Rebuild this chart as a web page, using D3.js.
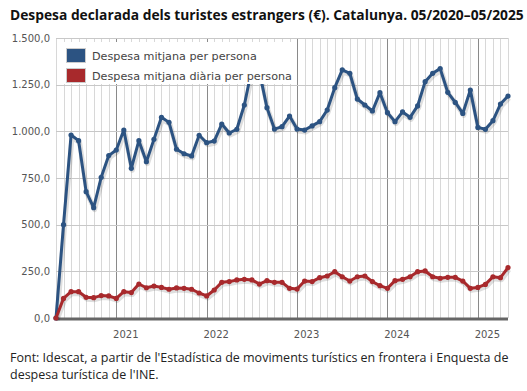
<!DOCTYPE html>
<html>
<head>
<meta charset="UTF-8">
<title>Despesa turistes estrangers</title>
<script src="https://cdn.jsdelivr.net/npm/d3@7"></script>
<style>
  body { margin: 0; background: #fff; }
  svg { display: block; }
</style>
</head>
<body>
<svg id="chart" width="527" height="391"></svg>
<script>
// months 05/2020 .. 05/2025
var months = d3.timeMonths(new Date(2020, 4, 1), new Date(2025, 5, 1));

// Despesa mitjana per persona (€)
var perPersona = [
  0, 500, 980, 950, 677, 591, 754, 870, 900, 1007, 802, 950,
  837, 957, 1075, 1048, 904, 880, 868, 979, 939, 948, 1039, 991,
  1011, 1141, 1335, 1320, 1127, 1012, 1025, 1082, 1012, 1007, 1029, 1052,
  1114, 1234, 1329, 1311, 1173, 1141, 1109, 1207, 1100, 1052, 1104, 1075,
  1136, 1266, 1311, 1336, 1209, 1155, 1096, 1221, 1021, 1011, 1057, 1146,
  1189
];

// Despesa mitjana diària per persona (€)
var diariaPersona = [
  0, 105, 141, 141, 111, 109, 120, 118, 105, 141, 136, 182,
  162, 171, 164, 154, 161, 159, 154, 134, 118, 150, 191, 195,
  204, 207, 204, 182, 200, 191, 191, 159, 155, 198, 195, 216,
  225, 248, 221, 198, 221, 225, 195, 173, 159, 200, 207, 221,
  248, 252, 221, 213, 218, 218, 198, 159, 164, 180, 221, 216,
  270
];

var yTicks = [0, 250, 500, 750, 1000, 1250, 1500];
var seriesNames = ["Despesa mitjana per persona", "Despesa mitjana diària per persona"];
var seriesColors = ["#2c5382", "#a8292c"];

var svg = d3.select("#chart");
var plotLeft = 56, plotRight = 508, plotTop = 38, plotBottom = 318;

var x = d3.scalePoint().domain(months.map(function(d) { return +d; })).range([plotLeft, plotRight]);
var y = d3.scaleLinear().domain([0, 1500]).range([plotBottom, plotTop]);

var fmt = d3.formatLocale({decimal: ",", thousands: ".", grouping: [3], currency: ["", "€"]}).format(",.1f");

// title
svg.append("text")
  .attr("x", 10).attr("y", 20)
  .attr("font-family", "Open Sans")
  .attr("font-weight", "bold")
  .attr("font-size", 13.8)
  .attr("fill", "#111")
  .text("Despesa declarada dels turistes estrangers (€). Catalunya. 05/2020–05/2025");

// vertical grid (one per month, darker at January)
svg.append("g").selectAll("line")
  .data(months)
  .join("line")
  .attr("x1", function(d) { return Math.round(x(+d)) + 0.5; })
  .attr("x2", function(d) { return Math.round(x(+d)) + 0.5; })
  .attr("y1", plotTop).attr("y2", plotBottom)
  .attr("stroke", function(d) { return d.getMonth() === 0 ? "#8a8a8a" : "#d8d8d8"; })
  .attr("stroke-width", 1);

// horizontal grid
svg.append("g").selectAll("line")
  .data(yTicks)
  .join("line")
  .attr("x1", plotLeft).attr("x2", plotRight)
  .attr("y1", function(d) { return Math.round(y(d)) + 0.5; })
  .attr("y2", function(d) { return Math.round(y(d)) + 0.5; })
  .attr("stroke", "#c8c8c8");

// y axis labels
var yAxis = svg.append("g")
  .attr("transform", "translate(" + (plotLeft - 4) + ",0)")
  .call(d3.axisLeft(y).tickValues(yTicks).tickFormat(fmt).tickSize(0).tickPadding(2));
yAxis.select(".domain").remove();
yAxis.selectAll("text")
  .attr("font-family", "DejaVu Sans")
  .attr("font-size", 10)
  .attr("fill", "#555");

// x axis: year labels at January
var januaries = months.filter(function(d) { return d.getMonth() === 0; });
var xAxis = svg.append("g")
  .attr("transform", "translate(0," + plotBottom + ")")
  .call(d3.axisBottom(x).tickValues(januaries.map(function(d) { return +d; }))
    .tickFormat(function(d) { return new Date(d).getFullYear(); })
    .tickSize(0).tickPadding(13));
xAxis.select(".domain").remove();
xAxis.selectAll("text")
  .attr("dx", 9)
  .attr("font-family", "DejaVu Sans")
  .attr("font-size", 10)
  .attr("fill", "#555");

svg.append("line")
  .attr("x1", plotLeft).attr("x2", plotRight)
  .attr("y1", plotBottom + 1).attr("y2", plotBottom + 1)
  .attr("stroke", "#666").attr("stroke-width", 3);

var line = d3.line()
  .x(function(d, i) { return x(+months[i]); })
  .y(function(d) { return y(d); });

function drawSeries(values, color) {
  var g = svg.append("g");
  // shadow
  g.append("path")
    .datum(values)
    .attr("d", line)
    .attr("transform", "translate(1,2)")
    .attr("fill", "none")
    .attr("stroke", "rgba(0,0,0,0.13)")
    .attr("stroke-width", 5)
    .attr("stroke-linejoin", "round");
  g.append("path")
    .datum(values)
    .attr("d", line)
    .attr("fill", "none")
    .attr("stroke", color)
    .attr("stroke-width", 3)
    .attr("stroke-linejoin", "round");
  g.selectAll("circle")
    .data(values)
    .join("circle")
    .attr("cx", function(d, i) { return x(+months[i]); })
    .attr("cy", function(d) { return y(d); })
    .attr("r", 2.6)
    .attr("fill", color);
}

drawSeries(perPersona, seriesColors[0]);
drawSeries(diariaPersona, seriesColors[1]);

// legend
var legend = svg.append("g");
legend.append("rect")
  .attr("x", 57).attr("y", 42).attr("width", 239).attr("height", 42)
  .attr("fill", "#fff");
seriesNames.forEach(function(name, i) {
  legend.append("rect")
    .attr("x", 66.5).attr("y", 48.5 + i * 20)
    .attr("width", 19).attr("height", 14)
    .attr("fill", seriesColors[i])
    .attr("stroke", "#ccc");
  legend.append("text")
    .attr("x", 92).attr("y", 60 + i * 20)
    .attr("font-family", "DejaVu Sans")
    .attr("font-size", 11.2)
    .attr("fill", "#444")
    .text(name);
});

// source
var source = svg.append("text")
  .attr("font-family", "Open Sans")
  .attr("font-size", 12.5)
  .attr("fill", "#222");
source.append("tspan").attr("x", 10).attr("y", 362)
  .text("Font: Idescat, a partir de l'Estadística de moviments turístics en frontera i Enquesta de");
source.append("tspan").attr("x", 10).attr("y", 379)
  .text("despesa turística de l'INE.");
</script>
</body>
</html>
